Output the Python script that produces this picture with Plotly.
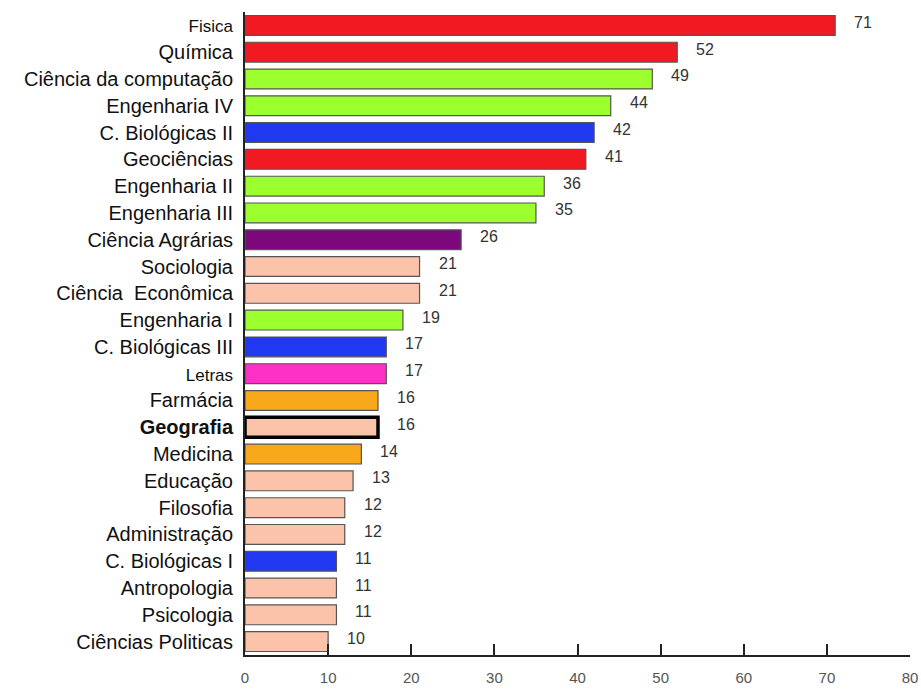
import plotly.graph_objects as go

categories = ["Fisica", "Química", "Ciência da computação", "Engenharia IV", "C. Biológicas II",
              "Geociências", "Engenharia II", "Engenharia III", "Ciência Agrárias", "Sociologia",
              "Ciência  Econômica", "Engenharia I", "C. Biológicas III", "Letras", "Farmácia",
              "Geografia", "Medicina", "Educação", "Filosofia", "Administração",
              "C. Biológicas I", "Antropologia", "Psicologia", "Ciências Politicas"]
values = [71, 52, 49, 44, 42, 41, 36, 35, 26, 21, 21, 19, 17, 17, 16, 16, 14, 13, 12, 12, 11, 11, 11, 10]
groups = ["exatas", "exatas", "eng", "eng", "bio", "exatas", "eng", "eng", "agr", "hum",
          "hum", "eng", "bio", "letras", "saude", "hum", "saude", "hum", "hum", "hum",
          "bio", "hum", "hum", "hum"]
highlight = "Geografia"
small_labels = ["Fisica", "Letras"]
x_ticks = [0, 10, 20, 30, 40, 50, 60, 70, 80]

group_colors = {"exatas": "#f21a22", "eng": "#9cff2e", "bio": "#2038f0", "agr": "#7d087d",
                "hum": "#fbc3aa", "letras": "#ff30c8", "saude": "#f9a81c"}

colors = [group_colors[g] for g in groups]
line_colors = ["#000000" if c == highlight else "#555555" for c in categories]
line_widths = [3.5 if c == highlight else 1.2 for c in categories]

idx = list(range(len(categories)))

def tick_label(c):
    if c == highlight:
        return f"<b>{c}</b>"
    if c in small_labels:
        return f"<span style='font-size:17px'>{c}</span>"
    return c

fig = go.Figure(go.Bar(
    x=values, y=idx, orientation="h",
    marker=dict(color=colors, line=dict(color=line_colors, width=line_widths)),
    width=0.74,
))

for i, v in enumerate(values):
    fig.add_annotation(x=v, y=i, text=str(v), showarrow=False, xanchor="left",
                       xshift=17, yshift=3, font=dict(size=16, color="#333333",
                                                      family="Liberation Sans, Arial"))

fig.update_layout(
    width=921, height=690,
    margin=dict(l=245, r=11, t=12, b=35),
    paper_bgcolor="white", plot_bgcolor="white",
    showlegend=False,
    font=dict(family="Liberation Sans, Arial", color="#111111"),
    xaxis=dict(range=[0, 80], tickvals=x_ticks, ticktext=[str(t) for t in x_ticks],
               automargin=False,
               showgrid=False, zeroline=False, showline=True, linecolor="#222222", linewidth=2,
               ticks="inside", ticklen=11, tickwidth=2, tickcolor="#222222",
               tickfont=dict(size=15, color="#555555"), ticklabelstandoff=8),
    yaxis=dict(range=[len(categories) - 0.5, -0.5], tickvals=idx,
               ticktext=[tick_label(c) for c in categories], automargin=False,
               showgrid=False, zeroline=False, showline=True, linecolor="#222222", linewidth=2,
               ticks="", tickfont=dict(size=20, color="#111111"), ticklabelstandoff=6),
)

fig.write_html("out.html")
